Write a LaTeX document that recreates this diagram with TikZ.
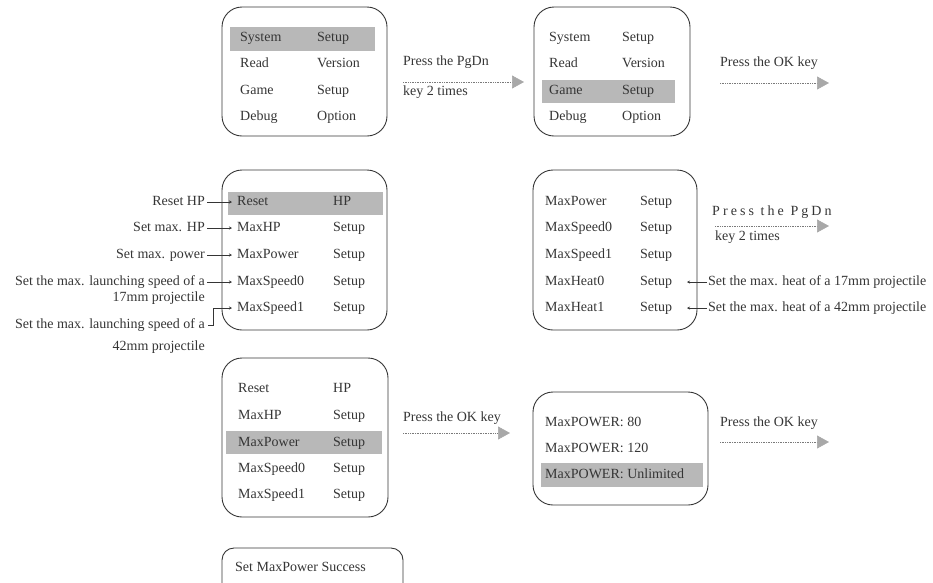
\documentclass[tikz,border=0pt]{standalone}
\usepackage{fontspec}
\setmainfont{Liberation Serif}
\usetikzlibrary{arrows.meta}
\definecolor{ink}{HTML}{353535}
\definecolor{bandc}{HTML}{B8B8B8}
\definecolor{tipc}{HTML}{A8A8A8}
\definecolor{dotc}{HTML}{7A7A7A}
\begin{document}
\begin{tikzpicture}[x=1pt,y=-1pt,
  every node/.style={font=\fontsize{14}{15}\selectfont, text=ink, inner sep=0pt,
    text height=9.5pt, text depth=2.5pt},
  panel/.style={draw=ink, line width=0.9pt, rounded corners=20pt},
  band/.style={fill=bandc, draw=none},
  item/.style={anchor=west},
  note/.style={anchor=east},
  rnote/.style={anchor=west},
  flow/.style={draw=dotc, line width=0.6pt, dash pattern=on 0.7pt off 1pt,
    -{Triangle[length=12pt,width=13pt,color=tipc]}},
  tag/.style={draw=ink, line width=0.6pt, -{Stealth[length=3pt,width=3pt]}},
  spaced/.style={font=\fontsize{14}{15}\selectfont\addfontfeature{LetterSpace=22}}
]
\useasboundingbox (0,0) rectangle (933,582);
\clip (0,0) rectangle (933,582);

% ---- main menu, first entry selected
\fill[band] (230,27) rectangle (375,51);
\draw[panel] (222,7) rectangle (387,136);
\node[item] (m1a) at (240,38) {System};  \node[item] (m1b) at (317,38) {Setup};
\node[item] (m2a) at (240,64) {Read};    \node[item] (m2b) at (317,64) {Version};
\node[item] (m3a) at (240,91) {Game};    \node[item] (m3b) at (317,91) {Setup};
\node[item] (m4a) at (240,117) {Debug};  \node[item] (m4b) at (317,117) {Option};

% ---- step: PgDn twice
\node[item] (p1) at (403,62) {Press the PgDn};
\node[item] (p1b) at (403,92) {key 2 times};
\coordinate (f1s) at (403,82); \coordinate (f1e) at (524,82);
\draw[flow] (f1s) -- (f1e);

% ---- main menu, game setup selected
\fill[band] (542,80) rectangle (675,103);
\draw[panel] (534,7) rectangle (690,136);
\node[item] (n1a) at (549,38) {System};  \node[item] (n1b) at (622,38) {Setup};
\node[item] (n2a) at (549,64) {Read};    \node[item] (n2b) at (622,64) {Version};
\node[item] (n3a) at (549,91) {Game};    \node[item] (n3b) at (622,91) {Setup};
\node[item] (n4a) at (549,117) {Debug};  \node[item] (n4b) at (622,117) {Option};

\node[item] (p2) at (720,63) {Press the OK key};
\coordinate (f2s) at (720,83); \coordinate (f2e) at (829,83);
\draw[flow] (f2s) -- (f2e);

% ---- game setup, page 1
\fill[band] (228,192) rectangle (383,215);
\draw[panel] (222,170) rectangle (387,330);
\node[item] (g1a) at (237,202) {Reset};     \node[item] (g1b) at (333,202) {HP};
\node[item] (g2a) at (237,228) {MaxHP};     \node[item] (g2b) at (333,228) {Setup};
\node[item] (g3a) at (237,255) {MaxPower};  \node[item] (g3b) at (333,255) {Setup};
\node[item] (g4a) at (237,282) {MaxSpeed0}; \node[item] (g4b) at (333,282) {Setup};
\node[item] (g5a) at (237,308) {MaxSpeed1}; \node[item] (g5b) at (333,308) {Setup};

\node[note] (l1) at (205,202) {Reset HP};
\node[note] (l2) at (205,228) {Set max. HP};
\node[note] (l3) at (205,255) {Set max. power};
\node[note] (l4) at (205,282) {Set the max. launching speed of a};
\node[note] (l4b) at (205,298) {17mm projectile};
\node[note] (l5) at (205,325) {Set the max. launching speed of a};
\node[note] (l5b) at (205,347) {42mm projectile};
\coordinate (t1) at (232,202); \coordinate (t2) at (232,228);
\coordinate (t3) at (232,255); \coordinate (t4) at (232,282);
\coordinate (t5) at (232,308);
\draw[tag] (l1.east) ++(2,0) -- (t1);
\draw[tag] (l2.east) ++(2,0) -- (t2);
\draw[tag] (l3.east) ++(2,0) -- (t3);
\draw[tag] (l4.east) ++(2,0) -- (t4);
\draw[tag] (l5.east) ++(3,0) -- ++(5,0) |- (t5);

% ---- game setup, page 2
\draw[panel] (533,170) rectangle (697,330);
\node[item] (h1a) at (545,202) {MaxPower};  \node[item] (h1b) at (640,202) {Setup};
\node[item] (h2a) at (545,228) {MaxSpeed0}; \node[item] (h2b) at (640,228) {Setup};
\node[item] (h3a) at (545,255) {MaxSpeed1}; \node[item] (h3b) at (640,255) {Setup};
\node[item] (h4a) at (545,282) {MaxHeat0};  \node[item] (h4b) at (640,282) {Setup};
\node[item] (h5a) at (545,308) {MaxHeat1};  \node[item] (h5b) at (640,308) {Setup};

\node[rnote] (r1) at (708,282) {Set the max. heat of a 17mm projectile};
\node[rnote] (r2) at (708,308) {Set the max. heat of a 42mm projectile};
\coordinate (u1) at (687,282); \coordinate (u2) at (687,308);
\draw[tag] (r1.west) ++(-1,0) -- (u1);
\draw[tag] (r2.west) ++(-1,0) -- (u2);

\node[item,spaced] (p3) at (712,212) {Press the PgDn};
\node[item] (p3b) at (715,237) {key 2 times};
\coordinate (f3s) at (715,226); \coordinate (f3e) at (829,226);
\draw[flow] (f3s) -- (f3e);

% ---- game setup, max power selected
\fill[band] (226,431) rectangle (382,454);
\draw[panel] (222,358) rectangle (388,517);
\node[item] (k1a) at (238,389) {Reset};     \node[item] (k1b) at (333,389) {HP};
\node[item] (k2a) at (238,416) {MaxHP};     \node[item] (k2b) at (333,416) {Setup};
\node[item] (k3a) at (238,443) {MaxPower};  \node[item] (k3b) at (333,443) {Setup};
\node[item] (k4a) at (238,469) {MaxSpeed0}; \node[item] (k4b) at (333,469) {Setup};
\node[item] (k5a) at (238,495) {MaxSpeed1}; \node[item] (k5b) at (333,495) {Setup};

\node[item] (p4) at (403,418) {Press the OK key};
\coordinate (f4s) at (403,433); \coordinate (f4e) at (510,433);
\draw[flow] (f4s) -- (f4e);

% ---- max power values
\fill[band] (541,463) rectangle (703,487);
\draw[panel] (533,392) rectangle (708,505);
\node[item] (v1) at (545,423) {MaxPOWER: 80};
\node[item] (v2) at (545,449) {MaxPOWER: 120};
\node[item] (v3) at (545,475) {MaxPOWER: Unlimited};

\node[item] (p5) at (720,423) {Press the OK key};
\coordinate (f5s) at (720,442); \coordinate (f5e) at (829,442);
\draw[flow] (f5s) -- (f5e);

% ---- confirmation
\draw[panel, rounded corners=12pt] (222,548) rectangle (403,610);
\node[item] (done) at (235,568) {Set MaxPower Success};
\end{tikzpicture}
\end{document}
